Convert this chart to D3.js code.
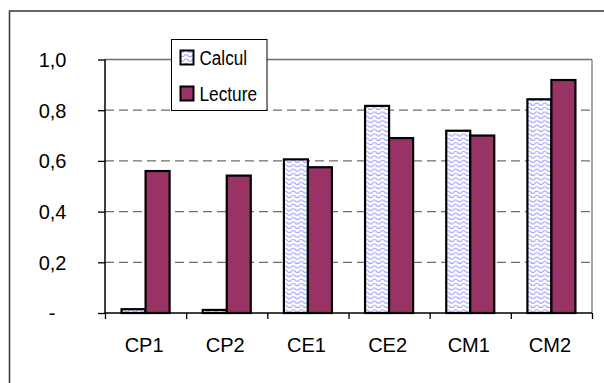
<!DOCTYPE html>
<html><head><meta charset="utf-8">
<script src="https://cdn.jsdelivr.net/npm/d3@7"></script>
<style>body{margin:0;background:#fff}text{font-family:Arial,"Liberation Sans",sans-serif}</style>
</head><body><svg id="c" width="604" height="383"></svg>
<script>
const categories = ["CP1","CP2","CE1","CE2","CM1","CM2"];
const seriesNames = ["Calcul","Lecture"];
const calcul = [0.015, 0.012, 0.606, 0.817, 0.719, 0.843];
const lecture = [0.56, 0.542, 0.575, 0.69, 0.70, 0.919];
const yTicks = [0, 0.2, 0.4, 0.6, 0.8, 1.0];
const yTickLabels = ["-  ", "0,2", "0,4", "0,6", "0,8", "1,0"];

const svg = d3.select("#c");
const L = 105, R = 592, T = 59.5, B = 313;

// pattern
const defs = svg.append("defs");
const pat = defs.append("pattern").attr("id","wave").attr("patternUnits","userSpaceOnUse")
  .attr("width",8).attr("height",4.4);
pat.append("rect").attr("width",8).attr("height",4.4).attr("fill","#fff");
pat.append("path").attr("d","M0,3 Q2,0.6 4,3 T8,3").attr("fill","none")
  .attr("stroke","#9090ff").attr("stroke-width",1);

// outer frame (cropped on right/bottom)
svg.append("rect").attr("x",9.5).attr("y",11).attr("width",640).attr("height",420)
  .attr("fill","none").attr("stroke","#404040").attr("stroke-width",1.6);

const y = d3.scaleLinear().domain([0,1]).range([B,T]);
const x0 = d3.scaleBand().domain(categories).range([L,R]).padding(0);
const x1 = d3.scaleBand().domain(seriesNames).range([0,x0.bandwidth()]).paddingInner(0).paddingOuter(0.69);
const xEdge = d3.scaleLinear().domain([0,categories.length]).range([L,R]);

// gridlines
svg.append("g").selectAll("line").data(yTicks.filter(v=>v>0)).join("line")
  .attr("x1",L).attr("x2",R).attr("y1",d=>y(d)).attr("y2",d=>y(d))
  .attr("stroke","#6e6e6e").attr("stroke-width",1.3)
  .attr("stroke-dasharray",d=>d===1?null:"9,5");
// right border of plot area
svg.append("line").attr("x1",R).attr("x2",R).attr("y1",T).attr("y2",B)
  .attr("stroke","#8a8a8a").attr("stroke-width",1.5);

// bars
const data = categories.map((c,i)=>({c, vals:[{s:"Calcul",v:calcul[i]},{s:"Lecture",v:lecture[i]}]}));
const g = svg.append("g");
g.selectAll("g").data(data).join("g").attr("transform",d=>`translate(${x0(d.c)},0)`)
  .selectAll("rect").data(d=>d.vals).join("rect")
  .attr("x",d=>x1(d.s)).attr("width",x1.bandwidth())
  .attr("y",d=>y(d.v)).attr("height",d=>y(0)-y(d.v))
  .attr("fill",d=>d.s==="Calcul"?"url(#wave)":"#993366")
  .attr("stroke","#000").attr("stroke-width",2.2);

// y axis
const ya = svg.append("g").attr("transform",`translate(${L},0)`)
  .call(d3.axisLeft(y).tickValues(yTicks).tickFormat((d,i)=>yTickLabels[i]).tickSize(7).tickPadding(31.5));
ya.select(".domain").attr("stroke","#000").attr("stroke-width",1.5).attr("d",`M0,${T}V${B}`);
ya.selectAll(".tick line").attr("stroke","#000").attr("stroke-width",1.3);
ya.selectAll("text").attr("font-size",20).attr("fill","#000").attr("dy","0.34em").style("white-space","pre");

// x axis
const xa = svg.append("g").attr("transform",`translate(0,${B})`)
  .call(d3.axisBottom(xEdge).tickValues(d3.range(categories.length+1)).tickFormat("").tickSize(6));
xa.select(".domain").attr("stroke","#000").attr("stroke-width",1.5).attr("d",`M${L},0H${R}`);
xa.selectAll(".tick line").attr("stroke","#000").attr("stroke-width",1.3);
const xl = svg.append("g").attr("transform",`translate(0,${B})`)
  .call(d3.axisBottom(x0).tickSize(0).tickPadding(24.3));
xl.select(".domain").remove();
xl.selectAll("text").attr("font-size",20).attr("fill","#000").attr("dx",-1.5);

// legend
const lg = svg.append("g");
lg.append("rect").attr("x",171.5).attr("y",39.5).attr("width",95.5).attr("height",71)
  .attr("fill","#fff").attr("stroke","#000").attr("stroke-width",1);
const items = lg.selectAll("g.it").data(seriesNames).join("g").attr("class","it")
  .attr("transform",(d,i)=>`translate(0,${i*36})`);
items.append("rect").attr("x",180.5).attr("y",50.5).attr("width",13).attr("height",14)
  .attr("fill",d=>d==="Calcul"?"url(#wave)":"#993366").attr("stroke","#000").attr("stroke-width",2);
items.append("text").attr("x",199.5).attr("y",65.3).attr("font-size",20).attr("fill","#000")
  .attr("textLength",d=>d==="Calcul"?47.5:57.5).attr("lengthAdjust","spacingAndGlyphs").text(d=>d);
</script></body></html>
